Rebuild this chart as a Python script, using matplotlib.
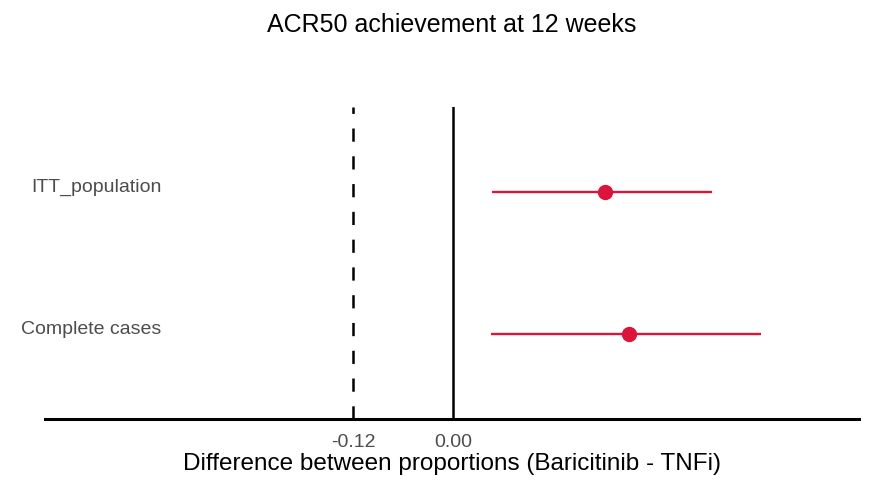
import numpy as np
import matplotlib
matplotlib.use("Agg")
from matplotlib import pyplot as plt

# difference in ACR50 proportions with 95% CI, one row per analysis set
groups = ["Complete cases", "ITT_population"]
estimate = [0.211, 0.182]
lower = [0.045, 0.047]
upper = [0.369, 0.310]

margin = -0.12          # non-inferiority margin
xticks = [-0.12, 0.00]
xtick_labels = ["-0.12", "0.00"]

red = "#DC143C"
grey = "#4D4D4D"
font = ["Liberation Sans", "DejaVu Sans"]

plt.rcParams["lines.scale_dashes"] = False

fig = plt.figure(figsize=(8.69, 4.93), dpi=100)
ax = fig.add_axes([45 / 869, 1 - 419 / 493, 814 / 869, 312 / 493])

ypos = np.arange(1, len(groups) + 1)

ax.axvline(margin, color="black", lw=1.8, linestyle=(0, (9.5, 10.5)))
ax.axvline(0, color="black", lw=1.8)

ax.hlines(ypos, lower, upper, color=red, lw=1.7)
ax.plot(estimate, ypos, "o", color=red, ms=10, mec=red)

for y, name in zip(ypos, groups):
    ax.text(-0.35, y, name, ha="right", va="baseline", color=grey,
            fontsize=14, family=font)

ax.set_xlim(-0.49, 0.487)
ax.set_ylim(0.4, 2.6)

for side in ["left", "right", "top"]:
    ax.spines[side].set_visible(False)
ax.spines["bottom"].set_linewidth(2.2)

ax.set_yticks([])
ax.set_xticks(xticks)
ax.set_xticklabels(xtick_labels, color=grey, fontsize=14, family=font)
ax.tick_params(axis="x", length=0, pad=11)

ax.set_xlabel("Difference between proportions (Baricitinib - TNFi)",
              fontsize=17.5, family=font, labelpad=1)

fig.text((45 + 859) / 2 / 869, 1 - 32 / 493, "ACR50 achievement at 12 weeks",
         ha="center", va="baseline", fontsize=18, family=font)

fig.savefig("out.png", dpi=100)
